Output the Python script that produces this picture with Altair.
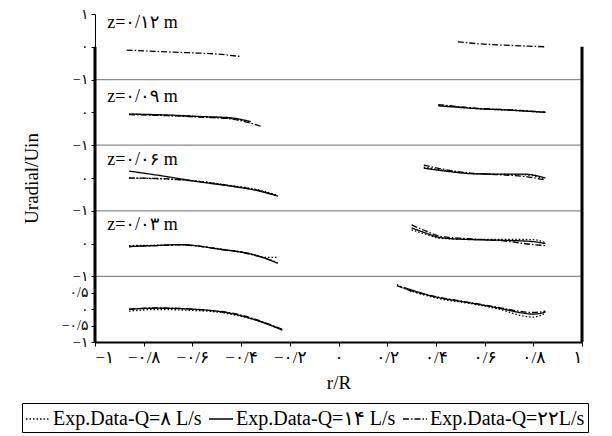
import altair as alt
import pandas as pd

FONT = "Liberation Serif, DejaVu Serif, DejaVu Sans"

SERIES = ["Exp.Data-Q=۸ L/s", "Exp.Data-Q=۱۴ L/s", "Exp.Data-Q=۲۲L/s"]
DASHES = [[1.5, 2], [1, 0], [6, 2, 1.5, 2]]

# panel offsets on the stacked axis (top panel z=0.12 ... bottom panel)
PANEL_OFFSET = [8, 6, 4, 2, 0]
Z_LABELS = ["z=۰/۱۲ m", "z=۰/۰۹ m", "z=۰/۰۶ m", "z=۰/۰۳ m"]
Z_LABEL_Y = [0.72, 0.47, 0.55, 0.58]
Z_LABEL_X = [-0.95, -0.95, -0.95, -0.95]

Y_TICKS = [9, 8, 7, 6, 5, 4, 3, 2, 1, 0.5, 0, -0.5, -1]
Y_TICK_LABELS = ["۱", "۰", "−۱", "۰", "−۱", "۰", "−۱", "۰", "−۱", "۰/۵", "۰", "−۰/۵", "−۱"]
X_TICKS = [-1, -0.8, -0.6, -0.4, -0.2, 0, 0.2, 0.4, 0.6, 0.8, 1]
X_TICK_LABELS = ["−۱", "−۰/۸", "−۰/۶", "−۰/۴", "−۰/۲", "۰", "۰/۲", "۰/۴", "۰/۶", "۰/۸", "۱"]
BOUNDARIES = [7, 5, 3, 1]

# ---- panel z=0.12 (only Q=22)
Z12_L_X = [-0.87, -0.75, -0.62, -0.5, -0.40]
Z12_L_Q22 = [-0.10, -0.14, -0.18, -0.22, -0.30]
Z12_R_X = [0.49, 0.58, 0.68, 0.78, 0.85]
Z12_R_Q22 = [0.15, 0.09, 0.05, 0.02, 0.0]

# ---- panel z=0.09
Z09_L_X = [-0.86, -0.7, -0.55, -0.45, -0.36, -0.32]
Z09_L_Q8 = [-0.05, -0.09, -0.14, -0.18, -0.30, None]
Z09_L_Q14 = [-0.05, -0.08, -0.13, -0.16, -0.28, None]
Z09_L_Q22 = [-0.07, -0.10, -0.15, -0.19, -0.33, -0.42]
Z09_R_X = [0.41, 0.5, 0.58, 0.7, 0.85]
Z09_R_Q8 = [0.22, 0.16, 0.11, 0.07, 0.0]
Z09_R_Q14 = [0.20, 0.15, 0.11, 0.07, 0.0]
Z09_R_Q22 = [0.24, 0.17, 0.12, 0.08, 0.01]

# ---- panel z=0.06
Z06_L_X = [-0.86, -0.72, -0.57, -0.45, -0.33, -0.25]
Z06_L_Q8 = [0.0, -0.03, -0.10, -0.22, -0.36, -0.53]
Z06_L_Q14 = [0.21, 0.06, -0.12, -0.24, -0.39, -0.55]
Z06_L_Q22 = [0.0, -0.02, -0.11, -0.23, -0.38, -0.55]
Z06_R_X = [0.35, 0.45, 0.55, 0.66, 0.76, 0.85]
Z06_R_Q8 = [0.33, 0.22, 0.14, 0.11, 0.10, -0.02]
Z06_R_Q14 = [0.30, 0.20, 0.13, 0.12, 0.12, 0.0]
Z06_R_Q22 = [0.39, 0.24, 0.14, 0.10, 0.05, -0.06]

# ---- panel z=0.03
Z03_L_X = [-0.86, -0.75, -0.65, -0.48, -0.37, -0.30, -0.25]
Z03_L_Q8 = [-0.06, -0.05, -0.04, -0.17, -0.30, -0.42, -0.42]
Z03_L_Q14 = [-0.09, -0.06, -0.03, -0.18, -0.30, -0.45, -0.60]
Z03_L_Q22 = [-0.09, -0.06, -0.04, -0.18, -0.31, -0.45, -0.58]
Z03_R_X = [0.30, 0.36, 0.42, 0.55, 0.68, 0.80, 0.85]
Z03_R_Q8 = [0.42, 0.28, 0.16, 0.13, 0.13, 0.12, 0.03]
Z03_R_Q14 = [0.48, 0.32, 0.18, 0.12, 0.10, 0.06, 0.0]
Z03_R_Q22 = [0.57, 0.38, 0.22, 0.14, 0.08, -0.03, -0.06]

# ---- bottom panel
Z00_L_X = [-0.86, -0.75, -0.54, -0.41, -0.34, -0.23]
Z00_L_Q8 = [-0.06, -0.01, -0.06, -0.20, -0.33, -0.62]
Z00_L_Q14 = [0.0, 0.03, -0.03, -0.18, -0.33, -0.64]
Z00_L_Q22 = [0.0, 0.04, -0.03, -0.16, -0.31, -0.62]
Z00_R_X = [0.24, 0.27, 0.39, 0.55, 0.66, 0.76, 0.80, 0.85]
Z00_R_Q8 = [0.75, 0.64, 0.36, 0.16, 0.0, -0.21, -0.24, -0.12]
Z00_R_Q14 = [None, 0.66, 0.39, 0.18, 0.03, -0.12, -0.15, -0.09]
Z00_R_Q22 = [0.72, 0.63, 0.40, 0.19, 0.05, -0.08, -0.10, -0.06]

SEGMENTS = [
    (0, "L", Z12_L_X, None, None, Z12_L_Q22),
    (0, "R", Z12_R_X, None, None, Z12_R_Q22),
    (1, "L", Z09_L_X, Z09_L_Q8, Z09_L_Q14, Z09_L_Q22),
    (1, "R", Z09_R_X, Z09_R_Q8, Z09_R_Q14, Z09_R_Q22),
    (2, "L", Z06_L_X, Z06_L_Q8, Z06_L_Q14, Z06_L_Q22),
    (2, "R", Z06_R_X, Z06_R_Q8, Z06_R_Q14, Z06_R_Q22),
    (3, "L", Z03_L_X, Z03_L_Q8, Z03_L_Q14, Z03_L_Q22),
    (3, "R", Z03_R_X, Z03_R_Q8, Z03_R_Q14, Z03_R_Q22),
    (4, "L", Z00_L_X, Z00_L_Q8, Z00_L_Q14, Z00_L_Q22),
    (4, "R", Z00_R_X, Z00_R_Q8, Z00_R_Q14, Z00_R_Q22),
]

rows = []
for panel, side, xs, q8, q14, q22 in SEGMENTS:
    for name, vals in zip(SERIES, [q8, q14, q22]):
        if vals is None:
            continue
        for xv, yv in zip(xs, vals):
            if yv is None:
                continue
            rows.append({"seg": f"{panel}{side}{name}", "series": name,
                         "x": xv, "val": yv, "off": PANEL_OFFSET[panel]})
df = pd.DataFrame(rows)

label_df = pd.DataFrame({
    "x": Z_LABEL_X,
    "val": Z_LABEL_Y,
    "off": PANEL_OFFSET[:4],
    "label": Z_LABELS,
})
bound_df = pd.DataFrame({"y": BOUNDARIES})
frame_df = pd.DataFrame({"x": [-1, 1]})


def expr_from(ticks, labels):
    s = "''"
    for t, l in reversed(list(zip(ticks, labels))):
        s = f"datum.value == {t} ? '{l}' : ({s})"
    return s


xscale = alt.Scale(domain=[-1, 1], nice=False, zero=False)
yscale = alt.Scale(domain=[-1, 9], nice=False, zero=False)

x_axis = alt.Axis(values=X_TICKS, labelExpr=expr_from(X_TICKS, X_TICK_LABELS),
                  title="r/R", grid=False, domainColor="black", domainWidth=2,
                  tickColor="black", tickSize=4, labelFont=FONT, labelFontSize=17,
                  labelColor="black", titleFont=FONT, titleFontSize=19,
                  titleFontWeight="normal", titleColor="black", titlePadding=8,
                  labelPadding=3, labelOverlap=False)
y_axis = alt.Axis(values=Y_TICKS, labelExpr=expr_from(Y_TICKS, Y_TICK_LABELS),
                  title="Uradial/Uin", grid=False, domainColor="black", domainWidth=1,
                  tickColor="black", tickSize=4, labelFont=FONT, labelFontSize=14,
                  labelColor="black", titleFont=FONT, titleFontSize=19,
                  titleFontWeight="normal", titleColor="black", titlePadding=20,
                  labelPadding=3, labelOverlap=False)

lines = alt.Chart(df).transform_calculate(
    yy="datum.val + datum.off"
).mark_line(color="black", strokeWidth=1.3, interpolate="monotone").encode(
    x=alt.X("x:Q", scale=xscale, axis=x_axis),
    y=alt.Y("yy:Q", scale=yscale, axis=y_axis),
    detail="seg:N",
    strokeDash=alt.StrokeDash(
        "series:N",
        scale=alt.Scale(domain=SERIES, range=DASHES),
        legend=alt.Legend(
            orient="none", legendX=-73, legendY=389, direction="horizontal",
            columns=3, title=None, strokeColor="black", fillColor="white",
            padding=3, labelFont=FONT, labelFontSize=20, labelColor="black",
            symbolType="stroke", symbolSize=576, symbolStrokeWidth=1.6,
            symbolStrokeColor="black", columnPadding=3, labelLimit=400,
            labelOffset=2, cornerRadius=0,
        ),
    ),
)

bounds = alt.Chart(bound_df).mark_rule(color="#8a8a8a", strokeWidth=1.2).encode(
    y=alt.Y("y:Q", scale=yscale, axis=y_axis),
    x=alt.X(datum=-1, scale=xscale, axis=x_axis),
    x2=alt.datum(1),
)

frame = alt.Chart(frame_df).mark_rule(color="black", strokeWidth=3).encode(
    x=alt.X("x:Q", scale=xscale, axis=x_axis),
    y=alt.Y(datum=8, scale=yscale, axis=y_axis),
    y2=alt.datum(-1),
)

labels = alt.Chart(label_df).transform_calculate(
    yy="datum.val + datum.off"
).mark_text(align="left", baseline="middle", font=FONT, fontSize=18,
            color="black").encode(
    x=alt.X("x:Q", scale=xscale, axis=x_axis),
    y=alt.Y("yy:Q", scale=yscale, axis=y_axis),
    text="label:N",
)

chart = alt.layer(bounds, frame, lines, labels).properties(
    width=487, height=328,
    autosize=alt.AutoSizeParams(type="none"),
    padding={"left": 87, "top": 6, "right": 22, "bottom": 92},
).configure_view(stroke=None).configure_axis(labelOverlap=False)

chart.save("out.html", embed_options={"renderer": "svg", "actions": False})
